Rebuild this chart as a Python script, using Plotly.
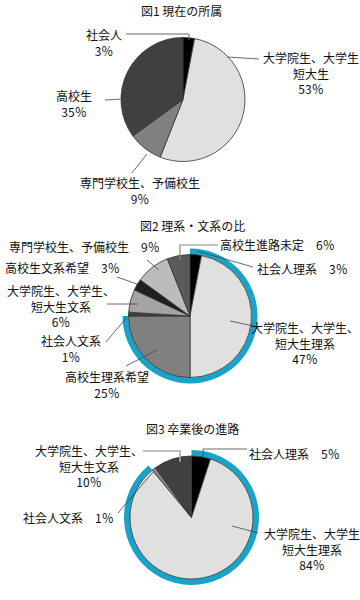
import re
import plotly.graph_objects as go

W, H = 360, 600
FONT = "Noto Sans CJK JP"
BLUE = "#1aa3c8"
EDGE = "#333333"

# ---------------- data ----------------
fig1_title = "図1 現在の所属"
fig1_labels = ["社会人", "大学院生、大学生<br>短大生", "専門学校生、予備校生", "高校生"]
fig1_values = [3, 53, 9, 35]
fig1_colors = ["#000000", "#e0e0e0", "#808080", "#404040"]

fig2_title = "図2 理系・文系の比"
fig2_labels = ["社会人理系", "大学院生、大学生、<br>短大生理系", "高校生理系希望", "社会人文系",
               "大学院生、大学生、<br>短大生文系", "高校生文系希望", "専門学校生、予備校生", "高校生進路未定"]
fig2_values = [3, 47, 25, 1, 6, 3, 9, 6]
fig2_science = [True, True, True, False, False, False, False, False]
fig2_colors = ["#000000", "#e0e0e0", "#808080", "#404040", "#a4a4a4", "#202020", "#bcbcbc", "#5a5a5a"]

fig3_title = "図3 卒業後の進路"
fig3_labels = ["社会人理系", "大学院生、大学生<br>短大生理系", "社会人文系", "大学院生、大学生、<br>短大生文系"]
fig3_values = [5, 84, 1, 10]
fig3_science = [True, True, False, False]
fig3_colors = ["#000000", "#e0e0e0", "#888888", "#404040"]

# ---------------- layout constants (pixels) ----------------
pie1_geo = (183, 99.5, 62)
pie2_geo = (190, 316, 61.5)
pie3_geo = (191.5, 517.5, 61.5)
RING = 6

title_pos = [(181, 11), (192, 225), (192, 428)]

fig1_label_pos = [(104, 42.5, False), (311, 73, False), (140, 190, False), (74, 103.5, False)]
fig2_label_pos = [(302, 268, True), (305, 342.5, False), (107, 384, False), (71, 348.5, False),
                  (61, 306, False), (62, 267, True), (84, 247, True), (277, 244, True)]
fig3_label_pos = [(294, 453, True), (312, 549, False), (68, 517, True), (89, 466, False)]

fig1_leaders = [("M126,34 H189 V40", "#666666", 1), ("M259,59 L227,57", "#444444", 0.8),
                ("M139,98 L105,100", "#444444", 0.8), ("M132,173 L147,154", "#444444", 0.8)]
fig2_leaders = [("M218,245 H180 V260", "#888888", 1.2), ("M253,267 L197,251", "#444444", 0.8),
                ("M258,327 L230,321", "#444444", 0.8), ("M126,366 L157,350", "#444444", 0.8),
                ("M106,342 L127,317", "#444444", 0.8), ("M107,304 L138,304", "#444444", 0.8),
                ("M117,277 L137,284", "#444444", 0.8), ("M147,260 L159,270", "#444444", 0.8)]
fig3_leaders = [("M247,449 H203 V456", "#444444", 0.8), ("M143,451 H180 V462", "#aaaaaa", 1.5),
                ("M118,513 L153,472", "#444444", 0.8), ("M258,533 L232,526", "#444444", 0.8)]


def px(x):
    return x / W


def py(y):
    return 1 - y / H


def dom(cx, cy, r):
    return dict(x=[px(cx - r), px(cx + r)], y=[py(cy + r), py(cy - r)])


def path_to_paper(p):
    parts = re.findall(r"[MLHV]|[-\d.]+", p)
    res = []
    i = 0
    while i < len(parts):
        c = parts[i]
        if c in "ML":
            x, y = float(parts[i + 1]), float(parts[i + 2])
            res.append(f"{c}{px(x):.5f},{py(y):.5f}")
            i += 3
        elif c == "H":
            res.append(f"H{px(float(parts[i + 1])):.5f}")
            i += 2
        elif c == "V":
            res.append(f"V{py(float(parts[i + 1])):.5f}")
            i += 2
        else:
            i += 1
    return " ".join(res)


fig = go.Figure()
annotations = []
shapes = []


def add_chart(title, tpos, labels, values, colors, geo, lpos, leaders, science=None):
    cx, cy, r = geo
    total = sum(values)
    if science is not None:
        sci = sum(v for v, s in zip(values, science) if s)
        R = r + RING
        fig.add_trace(go.Pie(values=[sci, total - sci], sort=False, direction="clockwise", rotation=0,
                             marker=dict(colors=[BLUE, "rgba(0,0,0,0)"], line=dict(width=0)),
                             hole=r / R, domain=dom(cx, cy, R), textinfo="none",
                             hoverinfo="skip", showlegend=False))
    fig.add_trace(go.Pie(values=values, labels=[l.replace("<br>", "") for l in labels], sort=False,
                         direction="clockwise", rotation=0,
                         marker=dict(colors=colors, line=dict(color=EDGE, width=0.8)),
                         domain=dom(cx, cy, r), textinfo="none", showlegend=False))
    annotations.append(dict(text=title, x=px(tpos[0]), y=py(tpos[1]), xref="paper", yref="paper",
                            showarrow=False, xanchor="center", yanchor="middle",
                            font=dict(family=FONT, size=12, color="#111111")))
    for lab, v, (lx, ly, inline) in zip(labels, values, lpos):
        pct = f"{v}％"
        text = f"{lab}　{pct}" if inline else f"{lab}<br>{pct}"
        annotations.append(dict(text=text, x=px(lx), y=py(ly), xref="paper", yref="paper",
                                showarrow=False, xanchor="center", yanchor="middle", align="center",
                                font=dict(family=FONT, size=12, color="#111111")))
    for p, col, w in leaders:
        shapes.append(dict(type="path", path=path_to_paper(p), xref="paper", yref="paper",
                           line=dict(color=col, width=w)))


add_chart(fig1_title, title_pos[0], fig1_labels, fig1_values, fig1_colors, pie1_geo,
          fig1_label_pos, fig1_leaders)
add_chart(fig2_title, title_pos[1], fig2_labels, fig2_values, fig2_colors, pie2_geo,
          fig2_label_pos, fig2_leaders, fig2_science)
add_chart(fig3_title, title_pos[2], fig3_labels, fig3_values, fig3_colors, pie3_geo,
          fig3_label_pos, fig3_leaders, fig3_science)

fig.update_layout(width=W, height=H, margin=dict(l=0, r=0, t=0, b=0),
                  paper_bgcolor="white", plot_bgcolor="white",
                  annotations=annotations, shapes=shapes, showlegend=False,
                  font=dict(family=FONT, size=12))
fig.write_html("out.html", config={"displayModeBar": False},
               post_script="document.body.style.margin='0';document.body.style.overflow='hidden';")
